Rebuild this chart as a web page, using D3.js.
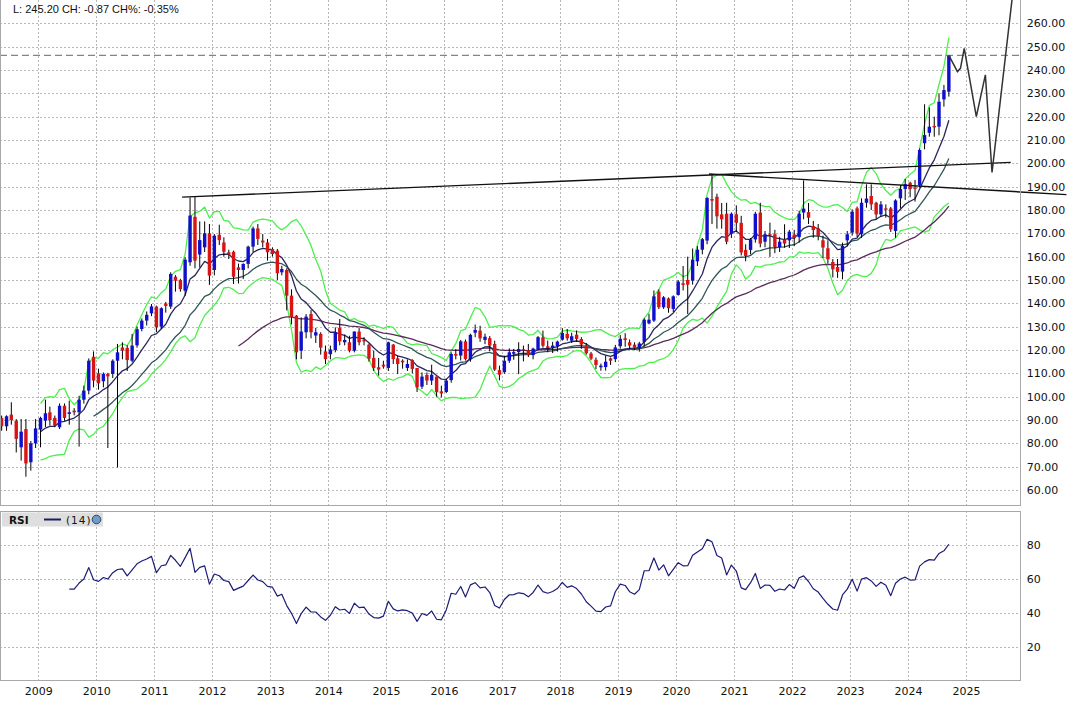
<!DOCTYPE html>
<html><head><meta charset="utf-8">
<script src="https://cdn.jsdelivr.net/npm/d3@7"></script>
<style>
body{margin:0;background:#fff;}
svg{display:block;}
.ax text{font-family:"DejaVu Sans",sans-serif;font-size:11px;fill:#111;}
</style></head>
<body>
<svg id="c" width="1073" height="705"></svg>
<script>
// ---------- DATA (monthly candles, May 2008 .. Sep 2024) ----------
const firstMonth = "2008-05";
const open = [90.9,87.3,92.3,89.7,78.3,86.1,71.9,80,85.9,89.7,
93.3,90.9,86.9,96.1,92.6,94,93.3,98.7,102.6,117.1,
110,106.6,109.7,109.7,115.4,121.1,120.9,115.4,122,129,
132.6,135.7,138.6,130,139.9,138.6,151.4,150,145.4,157.6,
177.1,160.9,164,170,154.3,169.4,166.1,161.9,162.1,155.4,
154.3,156.9,164.3,172.1,166.9,166.1,163.3,162.6,153.3,154.3,
143.3,134.7,119.7,127.6,135.4,126.2,126.9,119.4,118.2,120,
129.5,123.3,123.3,119.7,127.9,124.4,122.3,116.6,112.6,113.7,
112.3,122.3,116.4,115.4,112.3,115.7,112.3,104.3,109.3,106.9,
108.6,102.3,102,107.1,118.3,117.6,123.7,116.1,127.4,128.3,
124.3,125.1,122.6,111.4,110.5,115.4,118.4,119.1,120.3,119.9,
117.8,120.4,125.4,121.6,120.9,121.6,124.4,126.9,124,126.6,
124.7,122,118.5,115.8,112.6,112.7,116.4,116.1,121.6,125,
123.3,122.3,120.9,123.5,131.4,132.6,145,138.3,142.1,137.6,
143.6,148.6,150,149.7,158,163,166.9,184.7,185.7,178.1,
178.4,169.9,178.2,174.5,162.9,162.9,167.4,178.9,166.4,169.6,
169.6,164.1,167.4,167,169.5,168.4,178.9,179.1,173.1,172.1,
167,163.6,157.7,155.6,153.6,167,170.3,180.7,169.6,183.1,
186,183.1,178.1,180.7,180.7,171,185,189,191.7,189.6,
190.7,208.6,213.1,216,215.7,227.4,230.7];
const high = [91.9,92,97.6,90.4,90.4,90.4,81,90.4,91.4,98.7,
95.7,91.9,97.1,97.1,98.3,95.1,100.4,104.7,116.4,119.4,
112,110.4,110.2,116,122.6,123.3,122,126.9,130,133.5,
136.5,139.7,139,138.3,140.6,153.3,152.1,150.5,159.7,185.4,
185.7,175.1,175.1,174,169.7,173.7,168.3,163,162.6,157,
157.1,164.7,172.9,174,169.7,167.6,164,163.3,156.1,155,
146,135,134,135.4,137.1,129.5,127.6,121.9,121.9,129.7,
133.3,126.6,126.1,128,129.4,125.5,122.8,119.7,116.6,115.4,
123.6,122.6,117.6,116,116,116,112.3,110.4,110.4,113.7,
108.6,104.7,107.6,119,120.4,124.3,124.5,127,130.9,130.4,
127,126,124,113.3,117.5,120.7,120.5,123.3,121.9,122.6,
121,126,128.3,124,123.5,124,129.4,129,127.4,128.4,
125.5,123,119.2,116.8,114.2,117.6,116.8,122.2,126.4,127.2,
124.5,123.3,123.5,133.6,135.5,145.5,146,143.1,142.5,143.4,
150,156,160,163.5,164.5,168,185.4,195.2,187,183,
183.1,179,182,177.5,165.3,168,179.2,183.1,171,174.6,
171.5,168.5,173.9,171.5,171.5,179.7,192.7,183,175.3,174,
169,167,159,159,166,171,180.3,181.5,185,191,
191,183.5,183.8,182.4,181.3,184.6,190.7,193.3,192.1,192.9,
206.4,225.3,224,220,230,233.6,246.4];
const low = [85.4,85.4,88,76.1,72.6,65.7,68.3,78,78.3,87,
87.6,86.9,86.1,89.7,88,92,78.6,97,101,104,
103,104,78,108,69.7,116,111,114.7,121,128,
130.5,134.5,127.6,129,136,137.6,145,145,143.3,156.1,
155,155.4,162,147.9,152,165,160,159,148.3,148.5,
150.4,155,162,165,164,158.3,160,150,152,137,
131,116,116.1,125,125,123,118,114,116,119,
122,122,119,119,122,122,115,111,109,112,
111,114,109.7,112,111,110,102,103.3,105,105,
100,99.7,101.5,106,116,115.5,115.5,115,125.5,123.5,
122.5,119.5,111,107,109.8,114.5,115.8,109.7,115.1,117,
116,119.9,121,119,118.7,119.3,124,124,123,123.6,
120.5,118,115.6,111.8,111.1,111.2,113.6,114.8,120.6,121.4,
120.4,119.9,119.3,121.5,131,132,137.5,137.6,136,136.3,
143.3,145.5,135.4,148,156,161,165.3,174,172,172,
165.3,168,170.5,160.5,158,161,166,164,164,159.9,
161.5,162,163.8,163.7,164.5,166,176,174,168.1,167,
159.4,157,151.1,150.9,150.3,164.5,169,168.3,168,181,
180,176,177,176.7,170.6,168.1,180.7,184.3,185.5,183.6,
189.6,206,211.4,211.4,212,224.3,228.6];
const close = [87.3,91.6,90,81.9,85,71.4,80,86.4,90.9,92.9,
90,87.6,96.1,90.9,93.3,93.3,98.7,102.6,115.4,106.9,
105.7,109.7,108.7,115.4,119,119.7,115.7,121.9,128.9,132.6,
135.1,138.7,129.7,137.9,138.9,152.6,149.7,146.1,158.7,177.6,
158.3,167.1,170,151.9,169,167.1,162.1,160.9,151.4,154.3,
156.9,164.3,172.1,167.6,166.1,161.9,161.1,152.9,154.7,143.3,
134,119,127.9,134.3,127.6,127.6,121,116.1,120.2,127.6,
123.7,124.3,119.7,127.9,123.3,123.7,116.3,112.3,111.6,112.9,
123.3,116.1,114,114.7,114,111.9,104,108.6,106.9,109.4,
101.9,101.4,106.9,118.3,117.6,123.7,116.1,126.5,128.6,125,
125.7,121.9,111.6,109.4,115.4,119,119.1,120.4,119.9,117.9,
120.6,125.5,121.8,120.9,121.9,123.6,127.3,125,125.9,124.7,
122.3,118.6,116.3,113.6,113.3,115,115.4,121.1,124.8,124.3,
121.9,120.9,122.8,133,133,143,138.3,142.6,137.9,143,
149.3,147.9,148,158.7,163,167.5,185.2,184,177.3,176,
166.4,178.4,174.5,161.8,160.3,167.4,178.4,165.6,169.6,169.2,
164.1,166.4,165.6,170.7,167.9,178.4,180.6,176.7,171.4,168.9,
163.9,158.9,154.6,153.5,164.6,169.6,179.3,169.9,183.1,184.9,
182.4,178.1,182.4,180.1,171.7,184.1,189,191.1,189,189.1,
205.7,212.1,215.7,215.4,226.4,231.4,246.3];

// projection zig-zag drawn on the right
const projDates  = ["2024-09-15","2024-11-08","2024-11-27","2024-12-21","2025-03-07","2025-05-03","2025-06-14","2025-10-20"];
const projValues = [246.3,239.3,240.7,249.3,220,237.9,196.1,271.4];
// trend lines
const trendADates = ["2011-06-26","2025-10-10"], trendAValues = [185.5,200.4];
const trendBDates = ["2020-07-27","2026-09-26"], trendBValues = [195.4,186.6];

const priceTicks = [60,70,80,90,100,110,120,130,140,150,160,170,180,190,200,210,220,230,240,250,260];
const rsiTicks = [20,40,60,80];
const yearTicks = [2009,2010,2011,2012,2013,2014,2015,2016,2017,2018,2019,2020,2021,2022,2023,2024,2025];
const headerText = "L: 245.20 CH: -0.87 CH%: -0.35%";

// ---------- indicators ----------
function ema(vals, n){
  const a = 2/(n+1), out = vals.map(()=>null); let prev = null;
  for(let i=0;i<vals.length;i++){
    if(i===n-1){ prev = d3.mean(vals.slice(0,n)); out[i]=prev; }
    else if(i>=n){ prev = prev + a*(vals[i]-prev); out[i]=prev; }
  }
  return out;
}
function rsi(vals, n){
  const out = vals.map(()=>null); let ag=0, al=0;
  for(let i=1;i<vals.length;i++){
    const ch = vals[i]-vals[i-1], g = Math.max(ch,0), l = Math.max(-ch,0);
    if(i<=n){ ag+=g; al+=l; if(i===n){ ag/=n; al/=n; out[i]= al===0?100:100-100/(1+ag/al);} }
    else { ag=(ag*(n-1)+g)/n; al=(al*(n-1)+l)/n; out[i]= al===0?100:100-100/(1+ag/al); }
  }
  return out;
}
const ema9 = ema(close,9), ema20 = ema(close,20), ema50 = ema(close,50);
const bbUp = close.map((c,i)=>{ if(i<8) return null; const w=close.slice(i-8,i+1); return ema9[i]+2*d3.deviation(w)*Math.sqrt(8/9); });
const bbLo = close.map((c,i)=>{ if(i<8) return null; const w=close.slice(i-8,i+1); return ema9[i]-2*d3.deviation(w)*Math.sqrt(8/9); });
const rsi14 = rsi(close,14);

// ---------- layout ----------
const svg = d3.select("#c");
const PR = 1020.7, MB = 505.7, RT = 511, RB = 680.3;
const parse = d3.timeParse("%Y-%m-%d");
const m0 = d3.timeParse("%Y-%m")(firstMonth);
const dates = close.map((c,i)=> d3.timeDay.offset(d3.timeMonth.offset(m0,i),14));

const x = d3.scaleTime().domain([new Date(2009,0,1), new Date(2025,0,1)]).range([38.3, 966]);
const y = d3.scaleLinear().domain([60,260]).range([490,23.33]);
const yr = d3.scaleLinear().domain([0,100]).range([RB,511.7]);

const defs = svg.append("defs");
defs.append("clipPath").attr("id","cm").append("rect").attr("x",0).attr("y",0).attr("width",PR).attr("height",MB);
defs.append("clipPath").attr("id","cr").append("rect").attr("x",0).attr("y",RT).attr("width",PR).attr("height",RB-RT);

const gridCol = "#b8b8b8";
const gMain = svg.append("g").attr("clip-path","url(#cm)");
const gr = gMain.append("g").attr("stroke",gridCol).attr("stroke-dasharray","2,2").attr("shape-rendering","crispEdges");
yearTicks.forEach(yy=>{ const xx=Math.round(x(new Date(yy,0,1)))+0.5; gr.append("line").attr("x1",xx).attr("x2",xx).attr("y1",0).attr("y2",MB); });
priceTicks.forEach(v=>{ const yy=Math.round(y(v))+0.5; gr.append("line").attr("x1",0).attr("x2",PR).attr("y1",yy).attr("y2",yy); });
const gRsi = svg.append("g").attr("clip-path","url(#cr)");
const gr2 = gRsi.append("g").attr("stroke",gridCol).attr("stroke-dasharray","2,2").attr("shape-rendering","crispEdges");
yearTicks.forEach(yy=>{ const xx=Math.round(x(new Date(yy,0,1)))+0.5; gr2.append("line").attr("x1",xx).attr("x2",xx).attr("y1",RT).attr("y2",RB); });
rsiTicks.forEach(v=>{ const yy=Math.round(yr(v))+0.5; gr2.append("line").attr("x1",0).attr("x2",PR).attr("y1",yy).attr("y2",yy); });

function drawLine(g, arr, scale, col, w){
  const pts = arr.map((v,i)=>[dates[i],v]).filter(d=>d[1]!==null);
  g.append("path").datum(pts).attr("fill","none").attr("stroke",col).attr("stroke-width",w)
   .attr("stroke-linejoin","round").attr("d", d3.line().x(d=>x(d[0])).y(d=>scale(d[1])));
}
drawLine(gMain, bbUp, y, "#4cf04c", 1.3);
drawLine(gMain, bbLo, y, "#4cf04c", 1.3);
drawLine(gMain, ema50, y, "#5a2a5a", 1.3);
drawLine(gMain, ema20, y, "#2f5656", 1.3);
drawLine(gMain, ema9, y, "#28285e", 1.3);

const cg = gMain.append("g");
close.forEach((c,i)=>{
  const xx = x(dates[i]), o = open[i];
  cg.append("line").attr("x1",xx).attr("x2",xx).attr("y1",y(high[i])).attr("y2",y(low[i])).attr("stroke","#000").attr("stroke-width",1);
  const t = y(Math.max(o,c)), b = y(Math.min(o,c));
  cg.append("rect").attr("x",xx-1.7).attr("width",3.4).attr("y",t).attr("height",Math.max(1,b-t))
    .attr("fill", c>=o ? "#1010cc" : "#d81414");
});

const lastY = y(close[close.length-1]);
gMain.append("line").attr("x1",0).attr("x2",PR).attr("y1",lastY).attr("y2",lastY)
  .attr("stroke","#666").attr("stroke-dasharray","7,4").attr("stroke-width",1);

function seg(g, ds, vs, col, w){
  const pts = ds.map((d,i)=>[parse(d),vs[i]]);
  g.append("path").datum(pts).attr("fill","none").attr("stroke",col).attr("stroke-width",w)
   .attr("d", d3.line().x(d=>x(d[0])).y(d=>y(d[1])));
}
seg(gMain, trendADates, trendAValues, "#111", 1.4);
seg(svg, trendBDates, trendBValues, "#111", 1.4);
seg(gMain, projDates, projValues, "#333", 1.5);

drawLine(gRsi, rsi14, yr, "#1c1c78", 1.2);

const fr = svg.append("g").attr("fill","none").attr("stroke","#a8a8a8").attr("shape-rendering","crispEdges");
fr.append("path").attr("d",`M0.5,0 V${MB} H${PR} V0`);
fr.append("rect").attr("x",0.5).attr("y",RT).attr("width",PR-0.5).attr("height",RB-RT);

const ay = svg.append("g").attr("class","ax").attr("transform",`translate(${PR},0)`)
  .call(d3.axisRight(y).tickValues(priceTicks).tickFormat(d3.format(".2f")).tickSize(0).tickPadding(6));
ay.select(".domain").remove();
const ar = svg.append("g").attr("class","ax").attr("transform",`translate(${PR},0)`)
  .call(d3.axisRight(yr).tickValues(rsiTicks).tickSize(0).tickPadding(6));
ar.select(".domain").remove();
const axx = svg.append("g").attr("class","ax").attr("transform",`translate(0,${RB})`)
  .call(d3.axisBottom(x).tickValues(yearTicks.map(v=>new Date(v,0,1))).tickFormat(d3.timeFormat("%Y")).tickSize(0).tickPadding(7));
axx.select(".domain").remove();

svg.append("text").attr("x",13).attr("y",12.5).attr("font-family","'Liberation Sans',Arial,sans-serif")
  .attr("font-size",11).attr("fill","#111").text(headerText);

const lg = svg.append("g");
lg.append("rect").attr("x",2).attr("y",512.5).attr("width",101).attr("height",14).attr("fill","#dedede");
lg.append("text").attr("x",9).attr("y",523.5).attr("font-family","'DejaVu Sans',sans-serif").attr("font-size",10.5).attr("font-weight","bold").attr("fill","#111").text("RSI");
lg.append("line").attr("x1",44).attr("x2",61).attr("y1",519.5).attr("y2",519.5).attr("stroke","#1c1c5e").attr("stroke-width",2);
lg.append("text").attr("x",66).attr("y",523.5).attr("font-family","'DejaVu Sans',sans-serif").attr("font-size",10.5).attr("letter-spacing","1").attr("fill","#111").text("(14)");
lg.append("circle").attr("cx",96.5).attr("cy",519.5).attr("r",4.3).attr("fill","#6f9cc8").attr("stroke","#2a4664").attr("stroke-width",1);
</script>
</body></html>
